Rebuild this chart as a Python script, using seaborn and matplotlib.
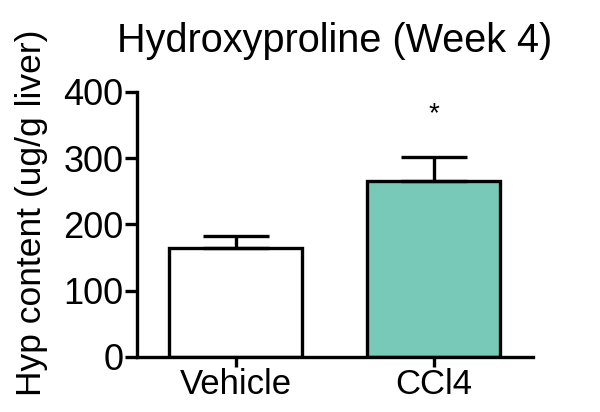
import matplotlib
matplotlib.use("Agg")
import matplotlib.pyplot as plt
import seaborn as sns
import pandas as pd

categories = ["Vehicle", "CCl4"]
means = [165, 265]
errors = [17, 36]
colors = ["#ffffff", "#78c9b7"]
yticks = [0, 100, 200, 300, 400]
title = "Hydroxyproline (Week 4)"
ylabel = "Hyp content (ug/g liver)"

sns.set_style("ticks", {"axes.edgecolor": "black", "text.color": "black",
                        "xtick.color": "black", "ytick.color": "black",
                        "axes.labelcolor": "black"})
plt.rcParams["font.family"] = ["Liberation Sans", "DejaVu Sans"]

df = pd.DataFrame({"group": categories, "value": means})

fig = plt.figure(figsize=(6, 4.12), dpi=100)
ax = fig.add_axes([0.228, 0.1335, 0.66, 0.6435])

sns.barplot(data=df, x="group", y="value", hue="group", palette=colors,
            order=categories, hue_order=categories, legend=False, saturation=1,
            errorbar=None, width=0.67, edgecolor="black", linewidth=2.4, ax=ax)
ax.errorbar(range(len(categories)), means, yerr=[[0]*len(errors), errors],
            fmt="none", ecolor="black", elinewidth=2.4, capsize=23.5, capthick=2.4, zorder=1)
ax.text(1, 366, "*", ha="center", va="center", fontsize=20)

ax.set_xlim(-0.5, 1.5)
ax.set_ylim(0, 400)
ax.set_yticks(yticks)
ax.set_xlabel("")
ax.set_ylabel(ylabel, fontsize=25.5)
ax.yaxis.set_label_coords(-0.225, 0.543)
ax.set_title(title, fontsize=28.5, pad=29)
ax.tick_params(axis="both", labelsize=26, width=2.4, length=8.5, direction="out", pad=1)
ax.tick_params(axis="x", labelsize=25, length=7)
for s in ["left", "bottom"]:
    ax.spines[s].set_linewidth(2.4)
sns.despine(ax=ax)

fig.savefig("out.png", dpi=100)
